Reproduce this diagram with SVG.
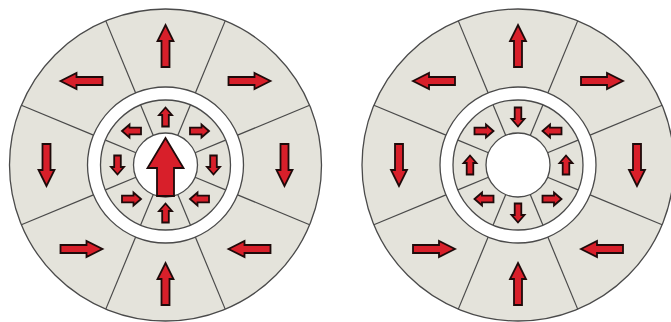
<svg xmlns="http://www.w3.org/2000/svg" width="671" height="322" viewBox="0 0 671 322">
<style>
.ring{fill:#e4e3db;stroke:#4a4a4a;stroke-width:1.3}
.gap{fill:#fff;stroke:#4a4a4a;stroke-width:1.3}
.div{stroke:#4a4a4a;stroke-width:1.2}
.arr{fill:#d81f2a;stroke:#1e0a0a;stroke-width:1.8;stroke-linejoin:miter}
</style>
<defs>
<path id="big" class="arr" d="M0,-21 L8,-5 L4,-5 L4,21 L-4,21 L-4,-5 L-8,-5 Z"/>
<path id="small" class="arr" d="M0,-9.5 L6.5,-2 L3.3,-2 L3.3,9.5 L-3.3,9.5 L-3.3,-2 L-6.5,-2 Z"/>
<path id="huge" class="arr" d="M0,-29 L18,1 L8.5,1 L8.5,29 L-8.5,29 L-8.5,1 L-18,1 Z"/>
<g id="dividers">
<line class="div" x1="29.85" y1="-72.06" x2="59.70" y2="-144.13"/>
<line class="div" x1="12.25" y1="-29.56" x2="24.87" y2="-60.05"/>
</g>
<g id="wheel">
<circle class="ring" r="156"/>
<circle class="gap" r="78"/>
<circle class="ring" r="65"/>
<circle class="gap" r="32"/>
<use href="#dividers"/>
<use href="#dividers" transform="rotate(45)"/>
<use href="#dividers" transform="rotate(90)"/>
<use href="#dividers" transform="rotate(135)"/>
<use href="#dividers" transform="rotate(180)"/>
<use href="#dividers" transform="rotate(225)"/>
<use href="#dividers" transform="rotate(270)"/>
<use href="#dividers" transform="rotate(315)"/>
</g>
<g id="outerArrows">
<use href="#big" transform="translate(0,-119)"/>
<use href="#big" transform="translate(84,-84) rotate(90)"/>
<use href="#big" transform="translate(119,0) rotate(180)"/>
<use href="#big" transform="translate(84,84) rotate(270)"/>
<use href="#big" transform="translate(0,119)"/>
<use href="#big" transform="translate(-84,84) rotate(90)"/>
<use href="#big" transform="translate(-119,0) rotate(180)"/>
<use href="#big" transform="translate(-84,-84) rotate(270)"/>
</g>
</defs>
<rect width="671" height="322" fill="#fff"/>
<g id="left-wheel" transform="translate(165.5,165)">
<use href="#wheel"/>
<use href="#outerArrows"/>
<g id="left-inner-arrows">
<use href="#small" transform="translate(0,-48)"/>
<use href="#small" transform="translate(34,-34) rotate(90)"/>
<use href="#small" transform="translate(48,0) rotate(180)"/>
<use href="#small" transform="translate(34,34) rotate(270)"/>
<use href="#small" transform="translate(0,48)"/>
<use href="#small" transform="translate(-34,34) rotate(90)"/>
<use href="#small" transform="translate(-48,0) rotate(180)"/>
<use href="#small" transform="translate(-34,-34) rotate(270)"/>
</g>
<use id="center-arrow" href="#huge" transform="translate(0,2)"/>
</g>
<g id="right-wheel" transform="translate(518,165)">
<use href="#wheel"/>
<use href="#outerArrows"/>
<g id="right-inner-arrows">
<use href="#small" transform="translate(0,-48) rotate(180)"/>
<use href="#small" transform="translate(34,-34) rotate(270)"/>
<use href="#small" transform="translate(48,0)"/>
<use href="#small" transform="translate(34,34) rotate(90)"/>
<use href="#small" transform="translate(0,48) rotate(180)"/>
<use href="#small" transform="translate(-34,34) rotate(270)"/>
<use href="#small" transform="translate(-48,0)"/>
<use href="#small" transform="translate(-34,-34) rotate(90)"/>
</g>
</g>
</svg>
